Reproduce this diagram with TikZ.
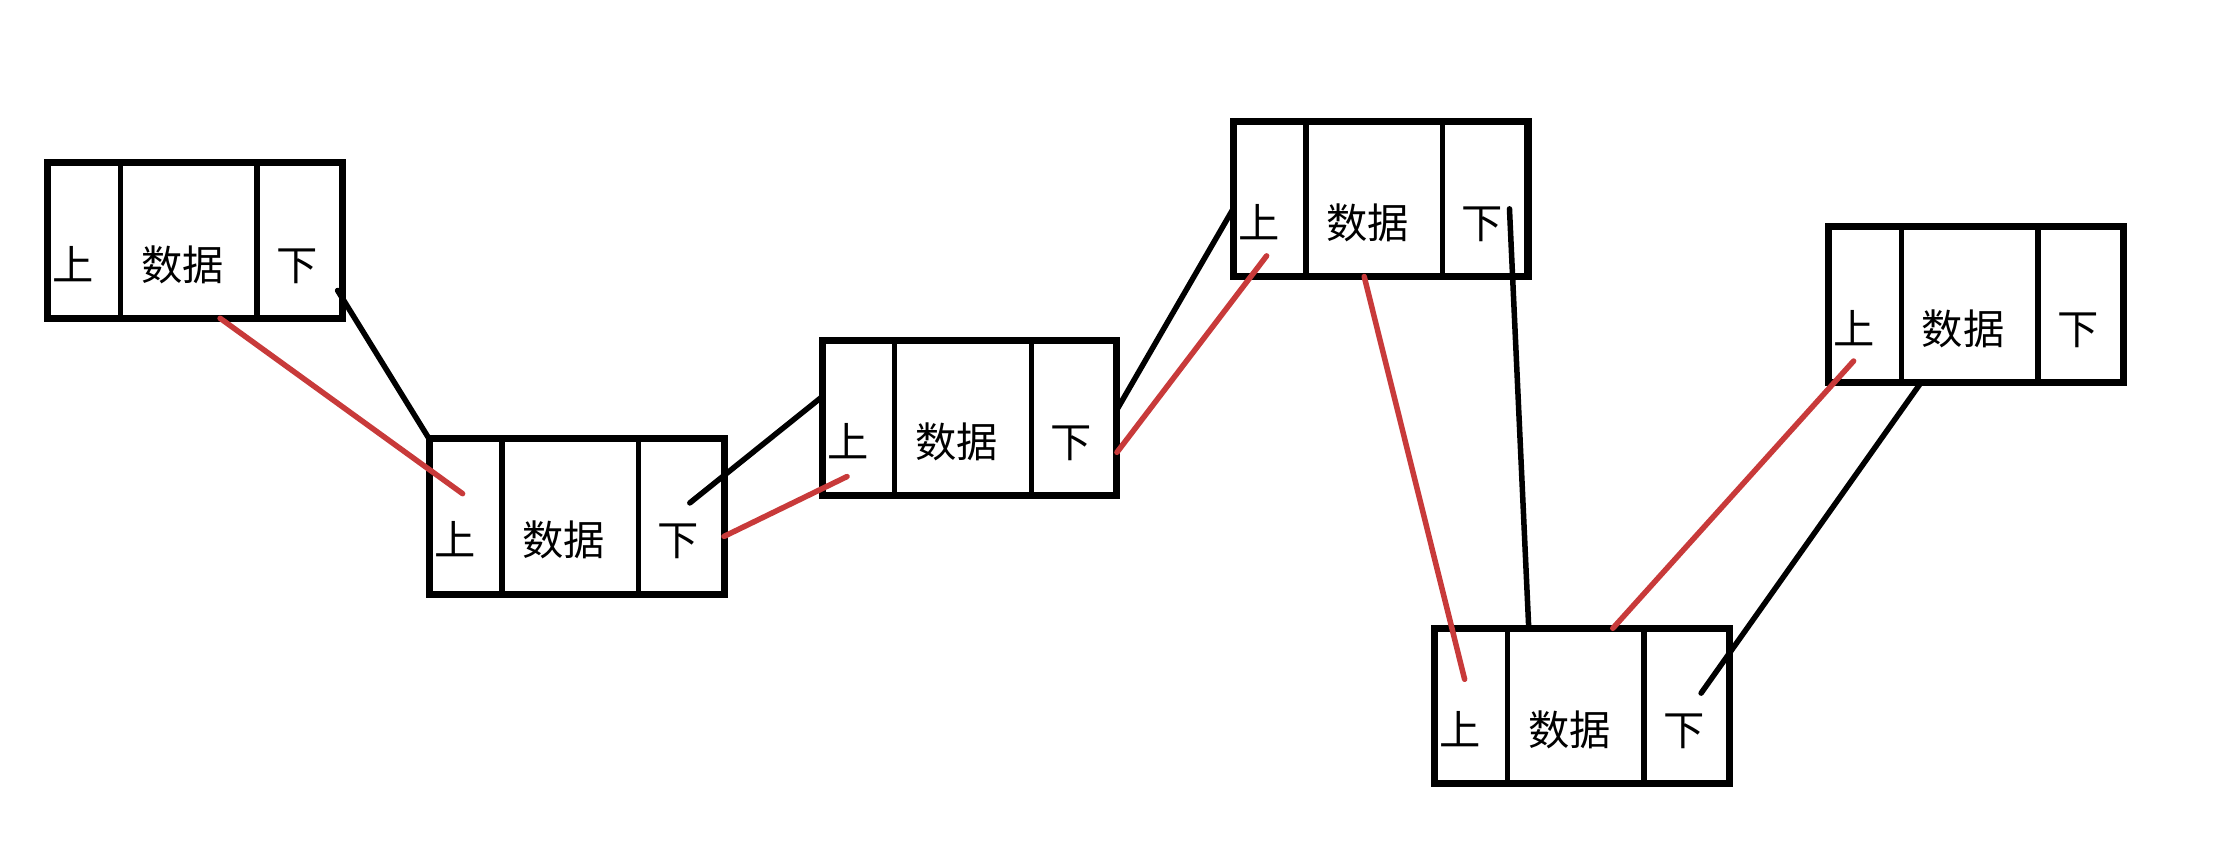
\documentclass[tikz,border=0pt]{standalone}
\usepackage{fontspec}
\newfontfamily\cjk{Noto Sans CJK SC}
\usepackage{tikz}
\usetikzlibrary{positioning}
\definecolor{linkred}{RGB}{200,58,58}

\begin{document}
\begin{tikzpicture}[x=0.02cm,y=0.02cm,
    every node/.style={inner ysep=0pt, outer sep=0pt, text height=1.644cm, text depth=0.536cm, align=left, font=\cjk\fontsize{16.5pt}{16.5pt}\selectfont},
    upcell/.style={draw, line width=2.2pt, text width=0.88cm, inner xsep=0.07cm},
    datacell/.style={draw, line width=2.2pt, text width=1.34cm, inner xsep=0.29cm},
    downcell/.style={draw, line width=2.2pt, text width=0.66cm, inner xsep=0.27cm},
    frame/.style={line width=2.8pt},
    blackline/.style={line width=2.2pt, line cap=round},
    redline/.style={linkred, line width=2.2pt, line cap=round},
    node distance=0pt]
    \useasboundingbox (0,0) rectangle (1568,-605);
    % node 1
    \node[upcell, anchor=north west] (u1) at (33.5,-114.4) {上};
    \node[datacell, right=of u1] (d1) {数据};
    \node[downcell, right=of d1] (n1) {下};
    \draw[frame] (u1.north west) rectangle (n1.south east);
    % node 2
    \node[upcell, anchor=north west] (u2) at (301.2,-308) {上};
    \node[datacell, right=of u2] (d2) {数据};
    \node[downcell, right=of d2] (n2) {下};
    \draw[frame] (u2.north west) rectangle (n2.south east);
    % node 3
    \node[upcell, anchor=north west] (u3) at (577,-239) {上};
    \node[datacell, right=of u3] (d3) {数据};
    \node[downcell, right=of d3] (n3) {下};
    \draw[frame] (u3.north west) rectangle (n3.south east);
    % node 4
    \node[upcell, anchor=north west] (u4) at (865.5,-85.1) {上};
    \node[datacell, right=of u4] (d4) {数据};
    \node[downcell, right=of d4] (n4) {下};
    \draw[frame] (u4.north west) rectangle (n4.south east);
    % node 5
    \node[upcell, anchor=north west] (u5) at (1007,-441) {上};
    \node[datacell, right=of u5] (d5) {数据};
    \node[downcell, right=of d5] (n5) {下};
    \draw[frame] (u5.north west) rectangle (n5.south east);
    % node 6
    \node[upcell, anchor=north west] (u6) at (1283.5,-159.3) {上};
    \node[datacell, right=of u6] (d6) {数据};
    \node[downcell, right=of d6] (n6) {下};
    \draw[frame] (u6.north west) rectangle (n6.south east);
    % links
    \draw[blackline] ([shift={(-3.5,-35)}]n1.east) -- (u2.north west);
    \draw[redline] ([shift={(22,0)}]d1.south) -- ([shift={(-2,16)}]u2.center);
    \draw[blackline] ([shift={(6,9.5)}]n2.center) -- ([shift={(0,15)}]u3.west);
    \draw[redline] ([shift={(0,-14)}]n2.east) -- ([shift={(-8,-41)}]u3.center);
    \draw[blackline] ([shift={(0,6)}]n3.east) -- ([shift={(0,-7)}]u4.west);
    \draw[redline] ([shift={(0,-24)}]n3.east) -- ([shift={(-2,-40)}]u4.center);
    \draw[redline] ([shift={(-7,0)}]d4.south) -- ([shift={(-4.5,18.7)}]u5.center);
    \draw[blackline] ([shift={(17,-7)}]n4.center) -- ([shift={(15,0)}]d5.north west);
    \draw[redline] ([shift={(26,0)}]d5.north) -- ([shift={(-8,-39.6)}]u6.center);
    \draw[blackline] ([shift={(-34,0)}]d6.south) -- ([shift={(10,9)}]n5.center);
\end{tikzpicture}
\end{document}
